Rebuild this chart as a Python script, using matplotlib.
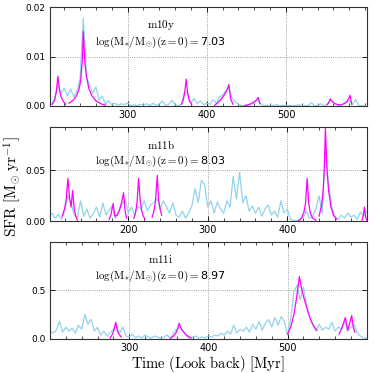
import numpy as np
import matplotlib
matplotlib.use('Agg')
import matplotlib.pyplot as plt
from matplotlib.ticker import MultipleLocator, FormatStrFormatter

plt.rcParams['mathtext.fontset'] = 'cm'
plt.rcParams['font.family'] = 'DejaVu Sans'

# ---- m10y : SFR every 4 Myr starting at 200 Myr (units 1e-3 Msun/yr)
m10y_sfr = [0.0, 0.3, 1.5, 4.5, 2.5, 3.6, 2.0, 3.4, 1.8, 3.0,
            5.5, 17.8, 6.0, 4.2, 2.5, 3.8, 1.2, 2.0, 0.3, 1.0,
            0.2, 0.5, 0.1, 0.4, 0.2, 0.6, 0.0, 0.2, 0.0, 0.3,
            0.1, 0.4, 0.0, 0.5, 0.1, 0.3, 0.9, 0.1, 0.3, 1.1,
            0.2, 0.0, 0.3, 3.0, 2.5, 0.5, 1.5, 0.4, 1.0, 0.2,
            0.5, 0.3, 1.2, 0.5, 1.8, 2.2, 3.0, 3.5, 1.5, 0.8,
            0.3, 0.0, 0.1, 0.0, 0.3, 0.6, 1.2, 0.4, 0.0, 0.1,
            0.0, 0.0, 0.2, 0.0, 0.0, 0.1, 0.0, 0.0, 0.0, 0.2,
            0.0, 0.0, 0.0, 0.6, 0.0, 0.0, 0.4, 0.0, 0.3, 1.2,
            0.5, 0.2, 0.0, 0.3, 0.6, 1.0, 0.2, 1.3, 0.0, 0.0,
            0.0]
# fitted bursts (time, SFR in 1e-3)
m10y_bursts = [
    ([205, 208, 210, 212, 214, 216, 219, 222], [0.3, 1.2, 2.8, 6.0, 3.2, 1.8, 0.8, 0.3]),
    ([226, 232, 236, 239, 241, 243, 244, 246, 248, 251, 255, 260, 266, 272],
     [0.5, 1.2, 2.2, 3.5, 5.5, 9.5, 15.1, 9.0, 6.0, 3.5, 2.0, 1.0, 0.4, 0.1]),
    ([368, 370, 372, 374, 376, 378, 381], [0.3, 1.0, 2.5, 5.4, 2.4, 1.0, 0.3]),
    ([410, 414, 418, 422, 425, 428, 430, 433], [0.1, 0.6, 1.3, 2.2, 3.0, 4.3, 1.5, 0.3]),
    ([448, 452, 456, 460, 463, 465, 467], [0.0, 0.2, 0.4, 0.8, 1.2, 1.7, 0.4]),
    ([552, 554, 556, 558, 562, 566, 570, 574, 577, 579, 581, 583],
     [0.2, 0.6, 1.4, 0.9, 0.4, 0.2, 0.2, 0.5, 0.9, 1.4, 2.1, 0.3]),
]

# ---- m11b : SFR every 4 Myr starting at 100 Myr (units 1e-3)
m11b_sfr = [5, 8, 3, 7, 2, 10, 25, 18, 6, 4,
            20, 5, 12, 3, 8, 14, 4, 18, 6, 11,
            15, 3, 10, 16, 22, 8, 14, 6, 15, 12,
            20, 10, 16, 18, 22, 12, 20, 14, 8, 18,
            6, 4, 10, 3, 8, 15, 32, 18, 40, 36,
            14, 20, 8, 19, 12, 8, 20, 14, 44, 22,
            48, 18, 25, 10, 15, 8, 14, 5, 12, 16,
            6, 10, 4, 20, 8, 12, 2, 1, 0.5, 1,
            4, 10, 3, 5, 12, 25, 8, 72, 35, 14,
            5, 2, 6, 3, 8, 4, 6, 2, 9, 5,
            10]
m11b_bursts = [
    ([117, 120, 122, 124, 126, 128, 130, 132, 134, 136], [5, 13, 22, 42, 24, 14, 30, 12, 5, 1]),
    ([176, 178, 181, 183, 186, 189, 192, 194, 196, 198], [2, 6, 17.5, 5, 6, 11, 20, 28, 10, 3]),
    ([207, 209, 211, 213, 215, 217, 219, 221], [3, 8, 18, 42, 20, 10, 5, 2]),
    ([230, 232, 234, 236.5, 238, 240, 242], [4, 9, 18, 45, 22, 12, 6]),
    ([414, 418, 421, 423, 425, 427, 429, 432, 436], [0.5, 3, 9, 18, 42, 18, 8, 3, 1]),
    ([440, 443, 445, 446.5, 448, 450, 452, 455, 458, 462], [5, 15, 28, 50, 91, 50, 30, 14, 6, 2]),
    ([494, 495.5, 497, 498.5, 500], [1, 5, 14, 5, 1]),
]

# ---- m11i : SFR every 4 Myr starting at 200 Myr (units 1e-2)
m11i_sfr = [8, 6, 9, 18, 7, 12, 8, 11, 6, 14,
            10, 25, 15, 20, 8, 12, 4, 8, 3, 6,
            10, 14, 6, 12, 3, 2, 5, 1, 3, 1,
            4, 2, 1, 3, 2, 0.5, 2, 4, 1, 6,
            10, 12, 8, 3, 1, 2, 3, 1, 2, 1,
            3, 2, 4, 3, 6, 4, 8, 5, 14, 6,
            10, 8, 12, 7, 15, 10, 18, 9, 16, 20,
            12, 22, 14, 23, 18, 4, 20, 48, 55, 40,
            53, 35, 22, 14, 8, 15, 9, 12, 10, 17,
            8, 12, 10, 18, 8, 12, 15, 6, 3, 1,
            0.5]
m11i_bursts = [
    ([276, 279, 281, 283, 285, 287, 290], [1, 5, 10, 17, 9, 5, 2]),
    ([352, 356, 359, 361, 363, 366, 370, 374, 378], [0.5, 3, 6, 10, 16, 10, 6, 3, 1]),
    ([500, 504, 508, 511, 513, 515, 518, 522, 526, 530, 534, 537],
     [5, 12, 25, 40, 52, 64, 50, 38, 27, 18, 12, 9]),
    ([565, 568, 571, 573, 576, 578, 581, 583, 585], [5, 10, 17, 22, 9, 15, 24, 12, 7]),
]

panels = [
    dict(name='m10y', mass='7.03', sfr=m10y_sfr, bursts=m10y_bursts, t0=200, scale=1e-3,
         xlim=(202, 602), xticks=[300, 400, 500], ylim=(0, 0.02), yticks=[0, 0.01, 0.02],
         fmt='%.2f', pos=[0.1333, 0.7166, 0.8447, 0.2638]),
    dict(name='m11b', mass='8.03', sfr=m11b_sfr, bursts=m11b_bursts, t0=100, scale=1e-3,
         xlim=(101.5, 500), xticks=[200, 300, 400], ylim=(0, 0.092), yticks=[0, 0.05],
         fmt='%.2f', pos=[0.1333, 0.4067, 0.8447, 0.2520]),
    dict(name='m11i', mass='8.97', sfr=m11i_sfr, bursts=m11i_bursts, t0=200, scale=1e-2,
         xlim=(200, 600), xticks=[300, 400, 500], ylim=(0, 0.995), yticks=[0, 0.5],
         fmt='%.1f', pos=[0.1333, 0.0912, 0.8447, 0.2608]),
]

fig = plt.figure(figsize=(3.75, 3.73), dpi=100)

for p in panels:
    ax = fig.add_axes(p['pos'])
    sfr = np.array(p['sfr']) * p['scale']
    t = p['t0'] + 4 * np.arange(len(sfr))
    ax.plot(t, sfr, color='skyblue', lw=0.9, alpha=0.9)
    for bx, by in p['bursts']:
        ax.plot(bx, np.array(by) * p['scale'], color='magenta', lw=0.9)
    ax.set_xlim(*p['xlim'])
    ax.set_ylim(*p['ylim'])
    ax.set_xticks(p['xticks'])
    ax.set_yticks(p['yticks'])
    ax.yaxis.set_major_formatter(FormatStrFormatter(p['fmt']))
    ax.xaxis.set_minor_locator(MultipleLocator(20))
    ax.tick_params(which='both', direction='in', top=True, right=True)
    ax.tick_params(which='major', length=3.5, width=0.6)
    ax.tick_params(which='minor', length=2, width=0.5)
    ax.tick_params(axis='x', labelsize=7, pad=3)
    ax.tick_params(axis='y', labelsize=6.5, pad=3)
    ax.grid(True, ls=':', color='gray', lw=0.6)
    for s in ax.spines.values():
        s.set_linewidth(0.8)
        s.set_color('#333333')
    ax.text(0.35, 0.82, r'$\rm %s$' % p['name'], transform=ax.transAxes,
            ha='center', va='center', fontsize=8)
    ax.text(0.35, 0.64, r'$\rm log(M_{*}/M_{\odot})(z=0)=$' + p['mass'],
            transform=ax.transAxes, ha='center', va='center', fontsize=8)

fig.text(0.032, 0.5, r'$\rm SFR\ [M_{\odot}\ yr^{-1}]$', rotation=90,
         ha='center', va='center', fontsize=11)
fig.text(0.555, 0.025, r'$\rm Time\ (Look\ back)\ [Myr]$',
         ha='center', va='center', fontsize=10.5)

fig.savefig('out.png', dpi=100)
